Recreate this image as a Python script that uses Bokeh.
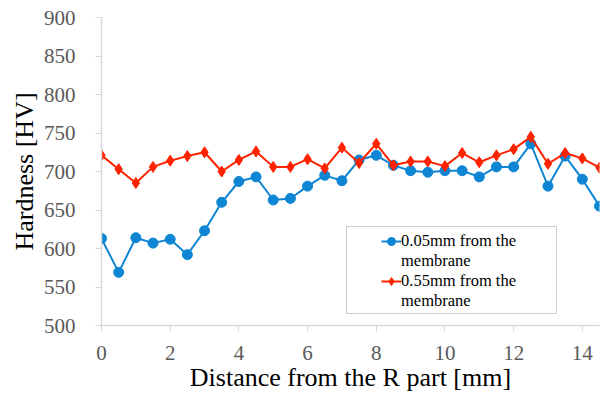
from bokeh.plotting import figure
from bokeh.models import Range1d, Legend, LegendItem, FixedTicker, ColumnDataSource, BoxAnnotation
from bokeh.embed import file_html
from bokeh.resources import INLINE

distance = [0, 0.5, 1, 1.5, 2, 2.5, 3, 3.5, 4, 4.5, 5, 5.5, 6, 6.5, 7, 7.5,
            8, 8.5, 9, 9.5, 10, 10.5, 11, 11.5, 12, 12.5, 13, 13.5, 14, 14.5]
hv_005 = [613, 569, 614, 607, 612, 592, 623, 660, 687, 693, 663, 665, 681, 695, 688, 715,
          721, 708, 701, 699, 701, 701, 693, 706, 706, 736, 681, 720, 690, 655]
hv_055 = [721, 703, 685, 706, 714, 720, 725, 700, 715, 726, 706, 706, 716, 704, 731, 711,
          736, 708, 713, 713, 707, 724, 712, 721, 729, 745, 710, 724, 717, 705]
x_ticks = [0, 2, 4, 6, 8, 10, 12, 14]
y_ticks = [500, 550, 600, 650, 700, 750, 800, 850, 900]
label_lines = [["0.05mm from the", "membrane"], ["0.55mm from the", "membrane"]]
x_title = "Distance from the R part [mm]"
y_title = "Hardness [HV]"

BLUE = "#0E86D4"
RED = "#FF2200"
FONT = "Liberation Serif"

p = figure(width=610, height=394, output_backend="svg", toolbar_location=None,
           x_range=Range1d(0, 14.5), y_range=Range1d(500, 900),
           min_border_left=101, min_border_right=11, min_border_top=17, min_border_bottom=67)
p.outline_line_color = None
p.background_fill_color = "white"
p.border_fill_color = "white"
p.xgrid.visible = False
p.ygrid.visible = False

src = ColumnDataSource(dict(x=distance, a=hv_005, b=hv_055))
l1 = p.line("x", "a", source=src, line_color=BLUE, line_width=2)
m1 = p.scatter("x", "a", source=src, marker="circle", size=10, fill_color=BLUE, line_color=BLUE)
l2 = p.line("x", "b", source=src, line_color=RED, line_width=2)
m2 = p.scatter("x", "b", source=src, marker="diamond", size=11, fill_color=RED, line_color=RED)

for ax in (p.xaxis[0], p.yaxis[0]):
    ax.axis_line_color = "#D9D9D9"
    ax.axis_line_width = 1.5
    ax.major_tick_line_color = "#D9D9D9"
    ax.major_tick_in = 0
    ax.major_tick_out = 6
    ax.minor_tick_line_color = None
    ax.major_label_text_font = FONT
    ax.major_label_text_font_size = "21px"
    ax.major_label_text_color = "#595959"
    ax.axis_label_text_font = FONT
    ax.axis_label_text_font_size = "26px"
    ax.axis_label_text_font_style = "normal"
    ax.axis_label_text_color = "#000000"

p.xaxis.ticker = FixedTicker(ticks=x_ticks)
p.yaxis.ticker = FixedTicker(ticks=y_ticks)
p.xaxis.axis_label = x_title
p.yaxis.axis_label = y_title
p.xaxis.major_label_standoff = 14
p.xaxis.axis_label_standoff = 0
p.yaxis.major_label_standoff = 20
p.yaxis.axis_label_standoff = 2

# legend frame (canvas pixels)
box = BoxAnnotation(left=346, right=556, top=226, bottom=313,
                    left_units="canvas", right_units="canvas",
                    top_units="canvas", bottom_units="canvas",
                    fill_color="white", fill_alpha=1,
                    line_color="#595959", line_width=1, level="annotation")
p.add_layout(box)

items = []
for lines, rends in zip(label_lines, [[l1, m1], [l2, m2]]):
    items.append(LegendItem(label=lines[0], renderers=rends))
    items.append(LegendItem(label=lines[1], renderers=[]))
legend = Legend(items=items, location=(280, 14))
legend.label_text_font = FONT
legend.label_text_font_size = "16.5px"
legend.label_text_color = "#000000"
legend.border_line_color = None
legend.background_fill_alpha = 0
legend.glyph_width = 20
legend.glyph_height = 20
legend.label_standoff = 0
legend.padding = 2
legend.spacing = 0
legend.margin = 0
legend.label_height = 20
p.add_layout(legend)

open("out.html", "w").write(file_html(p, INLINE))
